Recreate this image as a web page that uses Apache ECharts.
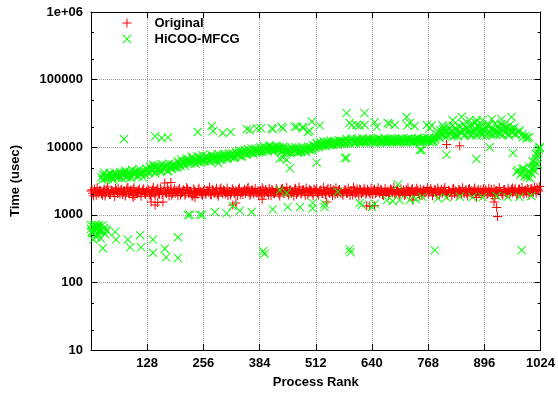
<!DOCTYPE html>
<html>
<head>
<meta charset="utf-8">
<script src="https://cdn.jsdelivr.net/npm/echarts@6/dist/echarts.min.js"></script>
<style>
html,body{margin:0;padding:0;background:#fff;}
#chart{width:558px;height:394px;}
</style>
</head>
<body>
<div id="chart"></div>
<script>
// ---- data ----
const seriesNames = ['Original', 'HiCOO-MFCG'];
const rankStep = 4; // band values sampled every 4 ranks; band A starts at rank 0, band B at rank 2
const xMin = 0, xMax = 1024, xInterval = 128;
const yTickLabels = ['10', '100', '1000', '10000', '100000', '1e+06'];
const yMinorTicks = [20, 50, 200, 500, 2000, 5000, 20000, 50000, 200000, 500000];

const originalBandA = [
  2250,2080,2400,1950,2180,2300,2050,2220,1900,2350,2130,2010,2280,2190,2450,2060,
  2170,2320,1980,2240,2100,2560,2030,2210,2380,1920,2150,2290,2070,2200,2420,1990,
  2140,2260,1880,2330,2090,2180,2470,2020,2250,2110,2960,2060,2300,2170,1950,2230,
  2080,2200,2350,1970,2150,2280,2040,2410,2120,2190,1900,2270,2090,2340,2160,2010,
  2230,2070,2300,2150,1990,2380,2110,2240,2020,2180,2500,2060,2270,2140,1930,2210,
  2120,2290,2050,2200,2360,1980,2170,2250,2080,2430,2140,2030,2310,2190,2100,2260,
  2180,2040,2330,2120,2240,1960,2210,2370,2090,2160,2280,2010,2230,2450,2070,2190,
  2140,2300,2060,2220,2380,2000,2170,2260,2110,2340,1940,2200,2150,2290,2080,2410,
  2250,2100,2190,2320,2040,2230,2150,2480,2070,2210,2350,1990,2170,2280,2120,2060,
  2200,2340,2090,2180,2260,1970,2300,2140,2220,2400,2050,2160,2290,2110,2230,2020,
  2180,2310,2070,2240,2150,2390,2000,2210,2130,2270,2080,2350,2190,2040,2260,2150,
  2090,2220,2330,2010,2170,2250,2120,2440,2060,2200,2300,1980,2160,2270,2110,2230,
  2050,2190,2280,2130,2360,2010,2240,2150,2080,2320,2200,1960,2260,2140,2390,2070,
  2210,2120,2300,2040,2180,2250,2090,2370,2160,2020,2280,2130,2230,2060,2340,2190,
  2110,2260,2050,2200,2390,2140,2010,2290,2170,2230,2080,2350,2150,2040,2270,2200,
  2120,2310,2180,2060,2400,2230,2150,2280,2090,2360,2200,2440,2170,2300,2520,2250
];
const originalBandB = [
  2350,1890,2180,2520,2040,2270,1950,2410,2120,2580,2000,2320,2150,1870,2260,2480,
  2010,2380,2230,1900,2460,2090,2300,1960,2510,2170,2040,2400,1880,2330,2110,2250,
  2390,1980,2210,2560,1910,2340,2070,2450,1990,2280,2150,2520,1900,2370,2060,2420,
  2290,1920,2480,2110,2360,1950,2530,2080,2250,1890,2420,2170,2010,2460,2230,1940,
  2370,2010,2240,2550,1960,2310,2090,2470,1900,2400,2150,2330,2030,2490,2180,1970,
  2430,2080,2270,1930,2500,2160,1990,2380,2210,2560,1950,2320,2060,2450,2120,1910,
  2290,2510,1980,2360,2140,2480,1920,2310,2050,2440,2180,1900,2400,2090,2270,2530,
  1970,2350,2210,1890,2460,2120,2580,2030,2300,2170,2490,1960,2390,2250,1920,2330,
  2400,1950,2310,2070,2550,1980,2370,2130,2440,1910,2290,2510,2060,2360,2200,1940,
  2330,2080,2490,1930,2280,2560,2040,2420,1900,2350,2170,2470,2010,2390,2120,2500,
  1990,2380,2140,2520,2060,2300,1930,2450,2200,1970,2410,2110,2560,2030,2340,1960,
  2420,2160,1940,2370,2520,2020,2330,1950,2290,2480,2070,2400,1910,2360,2180,2530,
  2260,2450,1920,2340,2110,2490,1980,2380,2200,2540,2010,2310,2150,1900,2460,2240,
  1960,2390,2230,2510,2040,2360,1920,2450,2290,2070,2500,1990,2380,2160,1940,2430,
  2350,1980,2480,2130,1920,2410,2250,2060,2530,2190,1950,2370,2100,2470,2010,2390,
  2200,2460,1970,2380,2110,2540,2020,2330,2450,1960,2400,2190,2580,2080,2360,2620
];
const originalExtra = [
  [96,1800],[137,1550],[146,1400],[152,1520],[164,1550],[182,3000],[237,1800],[323,1400],
  [330,1500],[390,1700],[537,1550],[628,1350],[635,1350],[646,1360],[733,1650],[810,11000],
  [840,10500],[878,1800],[918,1550],[920,1750],[924,1280],[926,940],[960,2500]
];

const hicooBandA = [
  620,540,690,470,650,580,3600,3900,3450,3800,3700,4050,3550,3850,3650,3950,
  3750,4100,3850,4200,3600,3950,4300,3800,4150,4000,4400,3700,4250,4050,4500,3900,
  4700,4300,4900,4500,5100,4400,4800,5200,4600,5000,4700,5400,4500,5100,4900,5300,
  5500,5000,5800,5300,6000,5600,6300,5700,6500,6000,6900,6200,6600,6100,7000,6400,
  6800,6300,7100,6500,6700,7300,6400,6900,7200,6600,7500,6900,7100,7700,7000,7400,
  7300,7800,7100,8000,7600,8300,7400,8100,8600,7900,8400,8800,8200,9000,8500,8900,
  8700,9300,8900,9700,9100,9500,10200,9000,9800,9400,10000,9200,9600,8800,9400,9100,
  8600,9200,8400,9000,8800,9400,8500,9100,8700,9300,8900,9600,9200,10000,9500,10400,
  10200,10900,10500,11200,10700,11400,11000,11800,10800,11500,11100,12000,11300,11700,11900,11400,
  12200,11600,12500,11900,12800,12100,11700,12400,12900,12000,12600,11800,12300,13000,12200,12500,
  12100,12700,11900,12400,13100,12200,12600,11800,12900,12300,12000,12700,12400,13200,12100,12600,
  12300,12800,12000,12500,13000,12200,11900,12600,12400,13100,12100,12700,12300,12000,12800,12500,
  12600,11800,13000,12200,12900,15500,14200,17800,15000,19500,16400,14800,18500,16200,21000,15300,
  17600,14500,19800,16100,22000,15200,18900,16400,20500,14900,17600,23000,15800,19200,16300,21500,
  17200,14800,20200,16600,18500,15300,22500,16900,19300,15500,18100,21000,16400,19700,14800,18400,
  16500,19600,15800,4600,17800,4100,14200,3700,13500,4400,3500,4000,5100,6000,7600,9300
];
const hicooBandB = [
  560,660,510,610,700,450,3300,4200,3700,3400,4100,3600,3300,4200,3900,3500,
  4300,3500,4000,4500,3700,4100,3500,4600,3900,4300,3800,4700,4000,3600,4300,4800,
  4200,5200,4500,5500,4100,5300,4700,4300,5600,4800,5200,4400,5700,4800,5500,5000,
  5100,6200,5400,6600,5900,5300,6800,6100,5800,7200,6300,5700,7300,6800,6000,7600,
  6200,7400,6900,6100,7700,6800,7300,6300,7900,7000,6500,7800,7400,6700,8100,7200,
  8100,7000,8600,7600,8900,7200,8700,9200,7800,9300,8300,9600,8000,9500,9100,8400,
  9900,8500,10300,9600,8700,10600,9300,10100,8800,10500,9200,10000,8600,10200,9800,8300,
  9500,8200,9800,9000,10100,8300,9700,8600,10000,9100,8500,10200,9400,9000,10800,9800,
  11500,10000,11900,10600,12200,10400,12000,11100,12500,10800,12300,11600,10900,12600,11200,12400,
  11400,13200,12000,11300,13400,12600,11500,13300,12100,11600,13500,12300,11700,12800,13600,11900,
  13300,11500,12800,13700,11700,13000,12200,13600,11600,12900,13400,11800,13100,12500,11700,13500,
  11800,13400,12700,11600,13300,12900,13500,11800,13200,12100,13600,11900,13100,13700,12200,13400,
  13500,12900,11900,13600,14000,16800,13800,16000,18200,14500,17300,20000,15600,17500,14600,19000,
  15200,20800,16800,18500,14800,20000,17100,15500,21800,16200,19000,14900,20300,17400,15300,18700,
  19800,16000,21500,15100,18900,17800,15600,20600,16100,22000,15200,19400,17300,15800,21200,16600,
  18800,15300,4300,16600,3900,15500,4800,14800,3600,14000,4200,4700,5400,6800,8400,9800
];
const hicooHigh = [
  [75,13200],[146,14500],[161,13700],[175,14000],[243,16800],[275,20600],[278,17300],[300,16200],
  [318,16800],[355,18500],[362,18000],[378,19000],[387,19000],[412,19000],[414,18500],[434,20000],
  [437,19000],[464,20000],[469,20000],[482,20000],[483,19000],[494,16800],[498,17500],[503,24000],
  [521,21000],[582,32000],[589,22800],[594,21000],[605,21300],[612,21000],[623,32000],[623,21300],
  [646,23400],[651,20000],[676,22800],[680,22000],[692,21300],[719,28000],[721,21000],[726,22800],
  [737,20600],[765,21300],[771,19000],[776,21000],[801,21000],[824,25000],[844,28000],[862,25000],
  [878,25000],[892,25000],[913,26000],[935,26000],[958,28000]
];
const hicooBelowBand = [
  [430,6800],[437,7000],[446,6500],[453,4900],[514,5900],[578,6900],[582,6900],[749,9100],
  [753,9100],[810,7700],[878,6700],[908,10000],[961,8200],[290,5800],[994,14000]
];
const hicooLow = [
  [221,990],[225,1000],[248,1000],[253,990],[282,1100],[309,1050],[323,1350],[339,1150],
  [366,1100],[414,1200],[430,2300],[446,2100],[448,1300],[476,1300],[505,1250],[505,1500],
  [532,1300],[532,1450],[562,2200],[612,1500],[617,1400],[640,1300],[646,1450],[674,1650],
  [687,1600],[699,2800],[703,1650],[726,1650],[740,1700],[755,1830],[790,1750],[810,1800],
  [840,1850],[869,1830],[892,1830],[924,1900],[949,1830],[976,1830],[1003,1900],
  [392,290],[395,265],[589,310],[591,280],[783,300],[981,300]
];
const hicooEarly = [
  [0,700],[2,560],[5,430],[8,650],[10,720],[12,600],[14,680],[16,520],[18,640],[22,580],
  [24,600],[26,700],[28,560],[30,640],[32,520],[34,610],[36,580],[27,320],[55,560],[57,430],
  [84,430],[89,330],[112,500],[114,330],[141,430],[141,275],[168,315],[171,235],[198,465],[198,230]
];
const hicooTail = [
  [982,4800],[990,3900],[998,5200],[1006,6200],[1010,4500],[1014,8000],[1018,5600],[1022,10000]
];

// ---- build ----
const bandToPoints = (arr, offset) => arr.map((v, i) => [i * rankStep + offset, v]);
const originalData = bandToPoints(originalBandA, 0).concat(bandToPoints(originalBandB, 2), originalExtra);
const hicooData = bandToPoints(hicooBandA, 0).concat(bandToPoints(hicooBandB, 2),
  hicooHigh, hicooBelowBand, hicooLow, hicooEarly, hicooTail);

const plusPath = 'path://M4.45,0H5.55V4.45H10V5.55H5.55V10H4.45V5.55H0V4.45H4.45Z';
const crossPath = 'path://M0.75,0L5,4.25L9.25,0L10,0.75L5.75,5L10,9.25L9.25,10L5,5.75L0.75,10L0,9.25L4.25,5L0,0.75Z';

const font = 'Liberation Sans, Arial, Helvetica, sans-serif';
const txt = {fontFamily: font, fontWeight: 'bold', fontSize: 13, color: '#000'};

const chart = echarts.init(document.getElementById('chart'), null, {renderer: 'canvas'});
chart.setOption({
  animation: false,
  backgroundColor: '#fff',
  textStyle: {fontFamily: font},
  grid: {left: 91, right: 17, top: 12, bottom: 44},
  legend: {
    data: [
      {name: seriesNames[0], icon: plusPath},
      {name: seriesNames[1], icon: crossPath}
    ],
    orient: 'vertical',
    left: 122.5, top: 15.5,
    padding: 0,
    itemWidth: 9, itemHeight: 9, itemGap: 1,
    textStyle: Object.assign({}, txt, {lineHeight: 15, padding: [0, 0, 0, 18]})
  },
  xAxis: [{
    type: 'value', min: xMin, max: xMax, interval: xInterval,
    name: 'Process Rank', nameLocation: 'middle', nameGap: 26,
    nameTextStyle: txt,
    axisLine: {show: true, onZero: false, lineStyle: {color: '#000', width: 1}},
    axisTick: {show: true, inside: true, length: 6, lineStyle: {color: '#000'}},
    axisLabel: Object.assign({}, txt, {margin: 7, formatter: v => v === xMin ? '' : String(v)}),
    splitLine: {show: true, lineStyle: {color: '#9a9a9a', type: 'dotted', width: 1}}
  }, {
    type: 'value', min: xMin, max: xMax, interval: xInterval, position: 'top',
    axisLine: {show: true, onZero: false, lineStyle: {color: '#000', width: 1}},
    axisTick: {show: true, inside: true, length: 6, lineStyle: {color: '#000'}},
    axisLabel: {show: false}, splitLine: {show: false}
  }],
  yAxis: [{
    type: 'log', logBase: 10, min: 10, max: 1000000, splitNumber: 5,
    name: 'Time (usec)', nameLocation: 'middle', nameGap: 69, nameRotate: 90,
    nameTextStyle: txt,
    axisLine: {show: true, onZero: false, lineStyle: {color: '#000', width: 1}},
    axisTick: {show: true, inside: true, length: 6, lineStyle: {color: '#000'}},
    axisLabel: Object.assign({}, txt, {margin: 8, formatter: v => yTickLabels[Math.round(Math.log10(v)) - 1]}),
    splitLine: {show: true, lineStyle: {color: '#9a9a9a', type: 'dotted', width: 1}}
  }, {
    type: 'log', logBase: 10, min: 10, max: 1000000, splitNumber: 5, position: 'right',
    axisLine: {show: true, onZero: false, lineStyle: {color: '#000', width: 1}},
    axisTick: {show: true, inside: true, length: 6, lineStyle: {color: '#000'}},
    axisLabel: {show: false}, splitLine: {show: false}
  }],
  series: [{
    name: seriesNames[0], type: 'scatter', symbol: plusPath, symbolSize: 9,
    itemStyle: {color: '#ff0000', opacity: 1}, data: originalData, z: 2, silent: true
  }, {
    name: seriesNames[1], type: 'scatter', symbol: crossPath, symbolSize: 9,
    itemStyle: {color: '#00ff00', opacity: 1}, data: hicooData, z: 3, silent: true
  }, {
    name: 'minorTicks', type: 'custom', silent: true, z: 5, clip: false,
    data: yMinorTicks.map(v => [xMin, v]),
    renderItem: function (params, api) {
      const v = api.value(1);
      const l = api.coord([xMin, v]);
      const r = api.coord([xMax, v]);
      const y = Math.round(l[1]) + 0.5;
      return {type: 'group', children: [
        {type: 'line', shape: {x1: l[0], y1: y, x2: l[0] + 3, y2: y}, style: {stroke: '#000', lineWidth: 1}},
        {type: 'line', shape: {x1: r[0] - 3, y1: y, x2: r[0], y2: y}, style: {stroke: '#000', lineWidth: 1}}
      ]};
    }
  }]
});
</script>
</body>
</html>
